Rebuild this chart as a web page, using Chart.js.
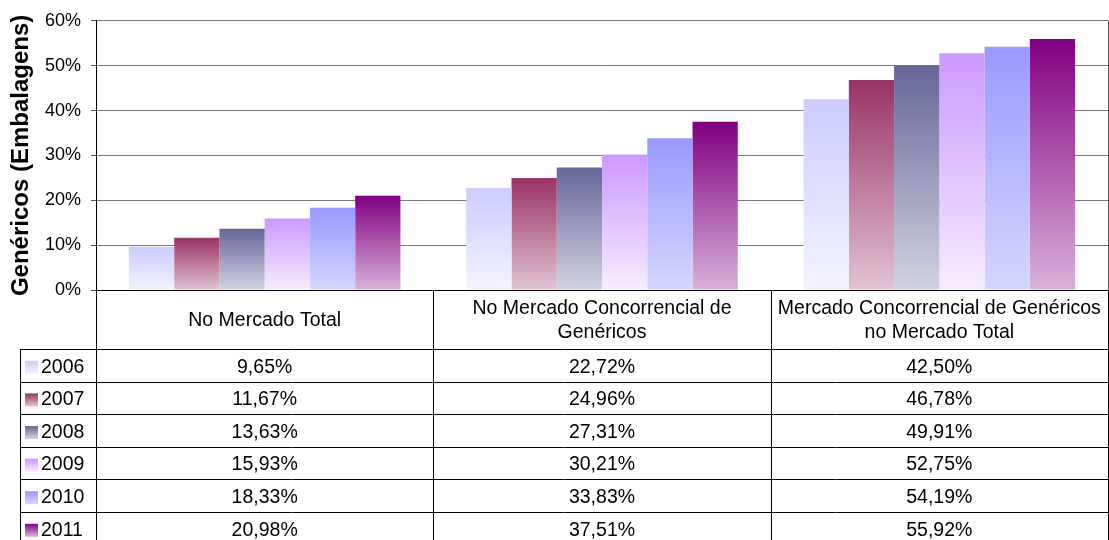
<!DOCTYPE html>
<html>
<head>
<meta charset="utf-8">
<script src="https://cdn.jsdelivr.net/npm/chart.js@4/dist/chart.umd.min.js"></script>
<style>
  html, body { margin: 0; padding: 0; background: #fff; }
  #wrap { width: 1109px; height: 540px; position: relative; }
</style>
</head>
<body>
<div id="wrap"><canvas id="MyChart"></canvas></div>
<script>
// categories (multi-line header text of the data table)
const categories = [
  ['No Mercado Total'],
  ['No Mercado Concorrencial de', 'Genéricos'],
  ['Mercado Concorrencial de Genéricos', 'no Mercado Total']
];
const years = ['2006', '2007', '2008', '2009', '2010', '2011'];

// values in %
const v2006 = [9.65, 22.72, 42.50];
const v2007 = [11.67, 24.96, 46.78];
const v2008 = [13.63, 27.31, 49.91];
const v2009 = [15.93, 30.21, 52.75];
const v2010 = [18.33, 33.83, 54.19];
const v2011 = [20.98, 37.51, 55.92];
const yTicks = [0, 10, 20, 30, 40, 50, 60];

// gradient colours: top -> bottom
const topColors = ['#CCCCFF', '#993366', '#666699', '#CC99FF', '#9999FF', '#800080'];
const botColors = ['#F3F3FF', '#E2C2D2', '#D2D2E2', '#F6ECFF', '#D6D6FF', '#DAB2DA'];

const FONT = '"Liberation Sans", Arial, sans-serif';

function fmt(v) {
  return v.toFixed(2).replace('.', ',') + '%';
}

function barFill(i) {
  return function (ctx) {
    const chart = ctx.chart;
    const y = chart.scales.y;
    if (!chart.chartArea || !y || ctx.raw === undefined) return topColors[i];
    const yTop = y.getPixelForValue(ctx.raw);
    const yBot = y.getPixelForValue(0);
    const g = chart.ctx.createLinearGradient(0, yTop, 0, yBot);
    g.addColorStop(0, topColors[i]);
    g.addColorStop(1, botColors[i]);
    return g;
  };
}

const seriesValues = [v2006, v2007, v2008, v2009, v2010, v2011];

const datasets = years.map((yr, i) => ({
  label: yr,
  data: seriesValues[i],
  backgroundColor: barFill(i),
  borderWidth: 0,
  categoryPercentage: 0.805,
  barPercentage: 1.0
}));

// draws the data table under the plot
const dataTable = {
  id: 'dataTable',
  afterDraw(chart) {
    const ctx = chart.ctx;
    const area = chart.chartArea;
    const x = chart.scales.x;
    const n = categories.length;
    const colW = (area.right - area.left) / n;
    const headerH = 59;
    const rowH = 32.6;
    const keyLeft = 20;
    const top = area.bottom;
    const rowsTop = top + headerH;
    const bottom = chart.height + 5;

    ctx.save();
    const px = v => Math.round(v) + 0.5;

    // lines
    ctx.strokeStyle = '#000';
    ctx.lineWidth = 1;
    ctx.beginPath();
    for (let c = 0; c <= n; c++) {
      const xx = px(area.left + c * colW);
      ctx.moveTo(xx, top);
      ctx.lineTo(xx, bottom);
    }
    ctx.moveTo(px(keyLeft), rowsTop);
    ctx.lineTo(px(keyLeft), bottom);
    for (let r = 0; r <= years.length; r++) {
      const yy = px(rowsTop + r * rowH);
      ctx.moveTo(px(keyLeft), yy);
      ctx.lineTo(px(area.right), yy);
    }
    ctx.stroke();

    // right border of plot area
    ctx.strokeStyle = '#555';
    ctx.beginPath();
    ctx.moveTo(px(area.right), area.top);
    ctx.lineTo(px(area.right), top);
    ctx.stroke();

    // header text
    ctx.fillStyle = '#000';
    ctx.font = '19.5px ' + FONT;
    ctx.textAlign = 'center';
    ctx.textBaseline = 'middle';
    categories.forEach((lines, c) => {
      const cx = x.getPixelForValue(c);
      const lh = 24;
      const cy = top + headerH / 2 + 1;
      lines.forEach((ln, k) => {
        ctx.fillText(ln, cx, cy + (k - (lines.length - 1) / 2) * lh);
      });
    });

    // rows
    years.forEach((yr, r) => {
      const cy = rowsTop + r * rowH + rowH / 2 + 2;
      const kx = 25, ks = 13;
      const g = ctx.createLinearGradient(0, cy - ks / 2, 0, cy + ks / 2);
      g.addColorStop(0, topColors[r]);
      g.addColorStop(1, botColors[r]);
      ctx.fillStyle = g;
      ctx.fillRect(kx, cy - ks / 2, ks, ks);
      ctx.fillStyle = '#000';
      ctx.textAlign = 'left';
      ctx.fillText(yr, 41, cy);
      ctx.textAlign = 'center';
      seriesValues[r].forEach((v, c) => {
        ctx.fillText(fmt(v), x.getPixelForValue(c), cy);
      });
    });
    ctx.restore();
  }
};

new Chart('MyChart', {
  type: 'bar',
  data: {
    labels: categories,
    datasets: datasets
  },
  options: {
    responsive: true,
    maintainAspectRatio: false,
    animation: false,
    layout: { padding: { top: 15, right: 1, bottom: 250, left: 0 } },
    plugins: {
      legend: { display: false },
      tooltip: { enabled: false }
    },
    scales: {
      x: { display: false },
      y: {
        min: 0,
        max: 60,
        afterFit(axis) { axis.width = 96; },
        afterBuildTicks(axis) { axis.ticks = yTicks.map(v => ({ value: v })); },
        border: { display: true, color: '#000', width: 1 },
        grid: {
          color: c => (c.tick && c.tick.value === 0 ? '#000' : '#777'),
          tickColor: '#555',
          tickLength: 5,
          lineWidth: 1
        },
        ticks: {
          padding: 10,
          color: '#000',
          font: { family: FONT, size: 18 },
          callback: v => v + '%'
        },
        title: {
          display: true,
          text: 'Genéricos (Embalagens)',
          color: '#000',
          font: { family: FONT, size: 24, weight: 'bold' },
          padding: { top: 7, bottom: 0 }
        }
      }
    }
  },
  plugins: [dataTable]
});
</script>
</body>
</html>
